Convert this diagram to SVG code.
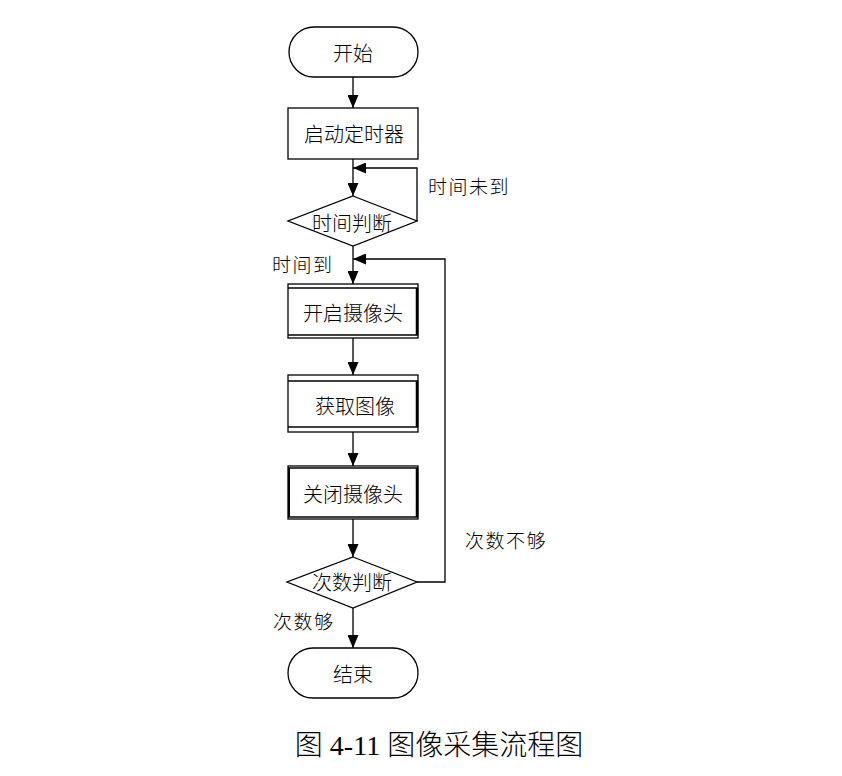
<svg xmlns="http://www.w3.org/2000/svg" width="842" height="776" viewBox="0 0 842 776">
<style>
.s{fill:#fff;stroke:#000;stroke-width:1.3}
.t{font-family:"Noto Sans CJK SC","Liberation Serif",serif;font-size:20px;font-weight:300;fill:#000;text-anchor:middle;dominant-baseline:central}
.l{font-family:"Noto Sans CJK SC","Liberation Serif",serif;font-size:19px;font-weight:300;fill:#000;letter-spacing:1.5px}
.c{fill:none;stroke:#000;stroke-width:1.3}
</style>
<defs>
<marker id="a" viewBox="0 0 13 11" refX="13" refY="5.5" markerWidth="13" markerHeight="11" markerUnits="userSpaceOnUse" orient="auto">
<path d="M0,0 L13,5.5 L0,11 Z" fill="#000"/>
</marker>
</defs>
<rect width="842" height="776" fill="#fff"/>
<g id="connectors">
<line class="c" x1="353" y1="77" x2="353" y2="108" marker-end="url(#a)"/>
<line class="c" x1="353" y1="159" x2="353" y2="196" marker-end="url(#a)"/>
<polyline class="c" points="417,221 417,168 353,168" marker-end="url(#a)"/>
<line class="c" x1="353" y1="246" x2="353" y2="284" marker-end="url(#a)"/>
<polyline class="c" points="417,582 445,582 445,259 353,259" marker-end="url(#a)"/>
<line class="c" x1="353" y1="338" x2="353" y2="375" marker-end="url(#a)"/>
<line class="c" x1="353" y1="432" x2="353" y2="466" marker-end="url(#a)"/>
<line class="c" x1="353" y1="519" x2="353" y2="557" marker-end="url(#a)"/>
<line class="c" x1="353" y1="608" x2="353" y2="648" marker-end="url(#a)"/>
</g>
<g id="start"><rect class="s" x="289" y="27" width="129" height="50" rx="25"/><text class="t" x="353" y="52">开始</text></g>
<g id="timer"><rect class="s" x="288" y="108" width="130" height="51"/><text class="t" x="354" y="133">启动定时器</text></g>
<g id="timecheck"><polygon class="s" points="353,196 417,221 353,246 288,221"/><text class="t" x="352" y="222">时间判断</text></g>
<g id="open"><rect class="s" x="288" y="284" width="130" height="54"/><line class="c" x1="288" y1="288" x2="418" y2="288"/><line class="c" x1="288" y1="335" x2="418" y2="335"/><line x1="417" y1="288" x2="417" y2="335" stroke="#000" stroke-width="2.5"/><text class="t" x="353" y="312">开启摄像头</text></g>
<g id="capture"><rect class="s" x="288" y="375" width="130" height="57"/><line class="c" x1="288" y1="381" x2="418" y2="381"/><line class="c" x1="288" y1="427" x2="418" y2="427"/><line x1="417" y1="381" x2="417" y2="427" stroke="#000" stroke-width="2.5"/><text class="t" x="355" y="405">获取图像</text></g>
<g id="close"><rect class="s" x="288" y="466" width="130" height="53"/><line class="c" x1="288" y1="468" x2="418" y2="468"/><line class="c" x1="288" y1="517" x2="418" y2="517"/><line x1="417" y1="468" x2="417" y2="517" stroke="#000" stroke-width="2.5"/><line x1="289" y1="468" x2="289" y2="517" stroke="#000" stroke-width="2"/><text class="t" x="353" y="493">关闭摄像头</text></g>
<g id="countcheck"><polygon class="s" points="353,557 417,582 353,608 287,582"/><text class="t" x="352" y="581">次数判断</text></g>
<g id="end"><rect class="s" x="288" y="648" width="130" height="50" rx="25"/><text class="t" x="353" y="673">结束</text></g>
<g id="labels">
<text class="l" x="428" y="194">时间未到</text>
<text class="l" x="272" y="272">时间到</text>
<text class="l" x="465" y="548">次数不够</text>
<text class="l" x="273" y="629">次数够</text>
</g>
<text x="439" y="755" text-anchor="middle" font-family="'Liberation Serif','Noto Sans CJK SC',serif" font-size="28" font-weight="300" fill="#000">图 4-11 图像采集流程图</text>
</svg>
